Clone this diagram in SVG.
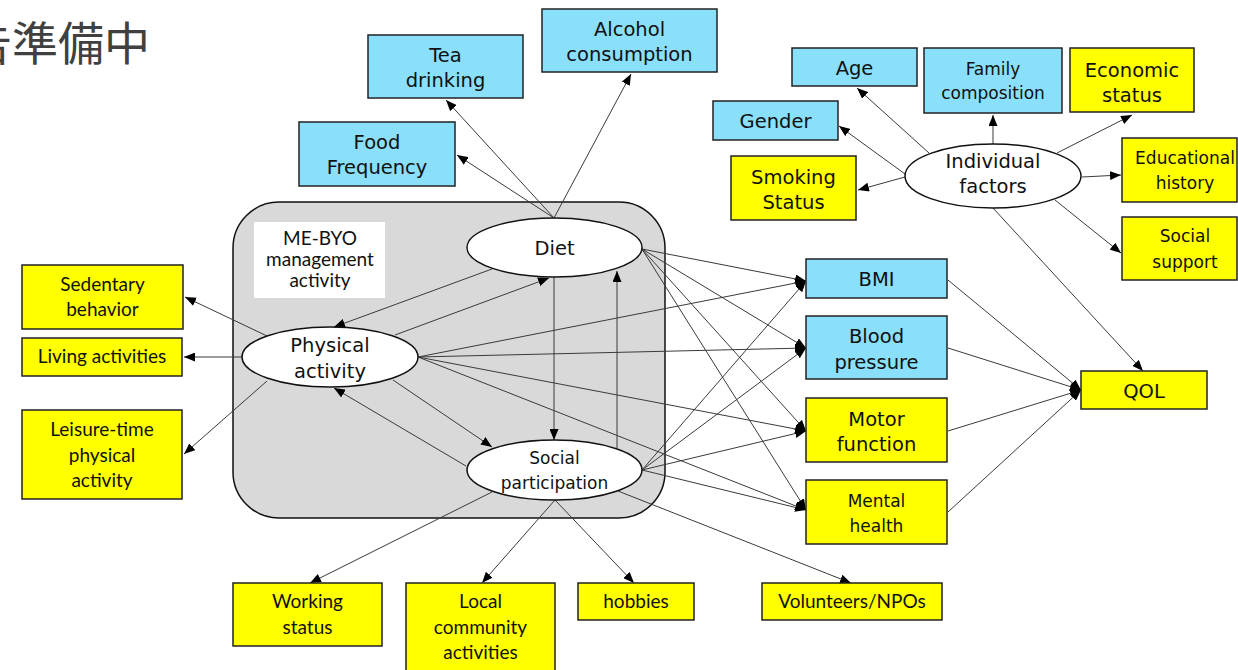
<svg xmlns="http://www.w3.org/2000/svg" width="1238" height="670" viewBox="0 0 1238 670">
  <style>
    .blue { fill: #8adffa; stroke: #222; stroke-width: 1.5; }
    .yellow { fill: #ffff00; stroke: #222; stroke-width: 1.5; }
    .ell { fill: #ffffff; stroke: #111; stroke-width: 1.5; }
    .t { font-family: "DejaVu Sans", Verdana, sans-serif; font-size: 19.5px; fill: #111; text-anchor: middle; }
    .s { font-family: "DejaVu Sans", Verdana, sans-serif; font-size: 17px; fill: #111; text-anchor: middle; }
    .c { font-family: Lato, "Liberation Sans", sans-serif; font-size: 19px; fill: #111; text-anchor: middle; }
    .edge { stroke: #3a3a3a; stroke-width: 1; fill: none; marker-end: url(#arrow); }
  </style>
  <defs>
    <marker id="arrow" markerUnits="userSpaceOnUse" markerWidth="11" markerHeight="9" refX="11" refY="4.5" orient="auto">
      <path d="M0,0 L11,4.5 L0,9 z" fill="#000"/>
    </marker>
  </defs>

  <rect width="1238" height="670" fill="#ffffff"/>

  <!-- page heading, clipped at the left margin -->
  <text x="-34" y="60" font-family="'Noto Sans CJK JP', sans-serif" font-size="46" fill="#404040">告準備中</text>

  <!-- ME-BYO management activity panel -->
  <g id="mebyo-panel">
    <rect x="233" y="202" width="432" height="316" rx="46" ry="46" fill="#d9d9d9" stroke="#111" stroke-width="1.5"/>
    <rect x="254" y="222" width="131" height="76" fill="#ffffff"/>
    <text class="c" x="320" y="245" font-size="16">ME-BYO</text>
    <text class="c" x="320" y="266" font-size="16">management</text>
    <text class="c" x="320" y="287" font-size="16">activity</text>
  </g>

  <!-- connectors -->
  <g id="connectors">
    <!-- Diet outputs -->
    <line class="edge" x1="554" y1="218" x2="446" y2="100"/>
    <line class="edge" x1="554" y1="218" x2="457" y2="155"/>
    <line class="edge" x1="554" y1="218" x2="631" y2="74"/>
    <line class="edge" x1="492" y1="269" x2="334" y2="327"/>
    <line class="edge" x1="395" y1="335" x2="549" y2="278"/>
    <line class="edge" x1="554" y1="277" x2="554" y2="440"/>
    <line class="edge" x1="617" y1="448" x2="617" y2="271"/>
    <line class="edge" x1="393" y1="380" x2="492" y2="447"/>
    <line class="edge" x1="466" y1="466" x2="334" y2="388"/>
    <!-- Physical activity outputs -->
    <line class="edge" x1="267" y1="336" x2="185" y2="297"/>
    <line class="edge" x1="242" y1="357" x2="184" y2="357"/>
    <line class="edge" x1="267" y1="381" x2="184" y2="454"/>
    <!-- to health outcomes -->
    <line class="edge" x1="642" y1="249" x2="806" y2="281"/>
    <line class="edge" x1="642" y1="249" x2="806" y2="348"/>
    <line class="edge" x1="642" y1="249" x2="806" y2="431"/>
    <line class="edge" x1="642" y1="249" x2="806" y2="510"/>
    <line class="edge" x1="418" y1="357" x2="806" y2="281"/>
    <line class="edge" x1="418" y1="357" x2="806" y2="348"/>
    <line class="edge" x1="418" y1="357" x2="806" y2="431"/>
    <line class="edge" x1="418" y1="357" x2="806" y2="510"/>
    <line class="edge" x1="642" y1="470" x2="806" y2="281"/>
    <line class="edge" x1="642" y1="470" x2="806" y2="348"/>
    <line class="edge" x1="642" y1="470" x2="806" y2="431"/>
    <line class="edge" x1="642" y1="470" x2="806" y2="510"/>
    <!-- Social participation outputs -->
    <line class="edge" x1="492" y1="492" x2="310" y2="583"/>
    <line class="edge" x1="555" y1="500" x2="482" y2="583"/>
    <line class="edge" x1="555" y1="500" x2="634" y2="583"/>
    <line class="edge" x1="618" y1="491" x2="851" y2="583"/>
    <!-- outcomes to QOL -->
    <line class="edge" x1="948" y1="280" x2="1081" y2="390"/>
    <line class="edge" x1="948" y1="348" x2="1081" y2="390"/>
    <line class="edge" x1="948" y1="431" x2="1081" y2="390"/>
    <line class="edge" x1="948" y1="512" x2="1081" y2="390"/>
    <!-- Individual factors outputs -->
    <line class="edge" x1="929" y1="153" x2="857" y2="88"/>
    <line class="edge" x1="905" y1="174" x2="839" y2="126"/>
    <line class="edge" x1="905" y1="177" x2="858" y2="190"/>
    <line class="edge" x1="993" y1="145" x2="993" y2="115"/>
    <line class="edge" x1="1057" y1="153" x2="1132" y2="115"/>
    <line class="edge" x1="1082" y1="177" x2="1121" y2="175"/>
    <line class="edge" x1="1055" y1="200" x2="1121" y2="253"/>
    <line class="edge" x1="993" y1="208" x2="1143" y2="371"/>
  </g>

  <!-- latent constructs -->
  <g id="diet">
    <ellipse class="ell" cx="554.5" cy="247.5" rx="87.5" ry="29.5"/>
    <text class="t" x="554.5" y="255" font-size="21">Diet</text>
  </g>
  <g id="physical-activity">
    <ellipse class="ell" cx="330" cy="357" rx="88" ry="30"/>
    <text class="t" x="330" y="352" font-size="20.5">Physical</text>
    <text class="t" x="330" y="378" font-size="20.5">activity</text>
  </g>
  <g id="social-participation">
    <ellipse class="ell" cx="554.5" cy="470" rx="87.5" ry="30"/>
    <text class="s" x="554.5" y="464">Social</text>
    <text class="s" x="554.5" y="489">participation</text>
  </g>
  <g id="individual-factors">
    <ellipse class="ell" cx="993" cy="176" rx="88" ry="32"/>
    <text class="t" x="993" y="168">Individual</text>
    <text class="t" x="993" y="193">factors</text>
  </g>

  <!-- diet indicators -->
  <g id="tea-drinking">
    <rect class="blue" x="368" y="35" width="155" height="63"/>
    <text class="t" x="445.5" y="62">Tea</text>
    <text class="t" x="445.5" y="87">drinking</text>
  </g>
  <g id="alcohol-consumption">
    <rect class="blue" x="542" y="9" width="175" height="63"/>
    <text class="t" x="629.5" y="36">Alcohol</text>
    <text class="t" x="629.5" y="61">consumption</text>
  </g>
  <g id="food-frequency">
    <rect class="blue" x="299" y="122" width="156" height="64"/>
    <text class="t" x="377" y="149">Food</text>
    <text class="t" x="377" y="174">Frequency</text>
  </g>

  <!-- individual factor indicators -->
  <g id="age">
    <rect class="blue" x="792" y="48" width="125" height="38"/>
    <text class="t" x="854.5" y="75">Age</text>
  </g>
  <g id="family-composition">
    <rect class="blue" x="924" y="48" width="138" height="65"/>
    <text class="s" x="993" y="75">Family</text>
    <text class="s" x="993" y="99">composition</text>
  </g>
  <g id="economic-status">
    <rect class="yellow" x="1070" y="48" width="124" height="64"/>
    <text class="t" x="1132" y="77">Economic</text>
    <text class="t" x="1132" y="102">status</text>
  </g>
  <g id="gender">
    <rect class="blue" x="713" y="101" width="125" height="39"/>
    <text class="t" x="775.5" y="128">Gender</text>
  </g>
  <g id="smoking-status">
    <rect class="yellow" x="731" y="156" width="125" height="64"/>
    <text class="t" x="793.5" y="184">Smoking</text>
    <text class="t" x="793.5" y="209">Status</text>
  </g>
  <g id="educational-history">
    <rect class="yellow" x="1122" y="138" width="115" height="64"/>
    <text class="s" x="1185" y="164">Educational</text>
    <text class="s" x="1185" y="189">history</text>
  </g>
  <g id="social-support">
    <rect class="yellow" x="1122" y="217" width="115" height="63"/>
    <text class="s" x="1185" y="242">Social</text>
    <text class="s" x="1185" y="268">support</text>
  </g>

  <!-- physical activity indicators -->
  <g id="sedentary-behavior">
    <rect class="yellow" x="22" y="265" width="161" height="64"/>
    <text class="c" x="102.5" y="291">Sedentary</text>
    <text class="c" x="102.5" y="316">behavior</text>
  </g>
  <g id="living-activities">
    <rect class="yellow" x="22" y="338" width="160" height="38"/>
    <text class="c" x="102" y="363">Living activities</text>
  </g>
  <g id="leisure-time-physical-activity">
    <rect class="yellow" x="22" y="410" width="160" height="89"/>
    <text class="c" x="102" y="436">Leisure-time</text>
    <text class="c" x="102" y="462">physical</text>
    <text class="c" x="102" y="487">activity</text>
  </g>

  <!-- health outcomes -->
  <g id="bmi">
    <rect class="blue" x="806" y="259" width="141" height="39"/>
    <text class="t" x="876.5" y="286">BMI</text>
  </g>
  <g id="blood-pressure">
    <rect class="blue" x="806" y="316" width="141" height="63"/>
    <text class="t" x="876.5" y="343">Blood</text>
    <text class="t" x="876.5" y="369">pressure</text>
  </g>
  <g id="motor-function">
    <rect class="yellow" x="806" y="398" width="141" height="64"/>
    <text class="t" x="876.5" y="426">Motor</text>
    <text class="t" x="876.5" y="451">function</text>
  </g>
  <g id="mental-health">
    <rect class="yellow" x="806" y="480" width="141" height="64"/>
    <text class="s" x="876.5" y="507">Mental</text>
    <text class="s" x="876.5" y="532">health</text>
  </g>
  <g id="qol">
    <rect class="yellow" x="1081" y="371" width="126" height="38"/>
    <text class="t" x="1144" y="398">QOL</text>
  </g>

  <!-- social participation indicators -->
  <g id="working-status">
    <rect class="yellow" x="233" y="583" width="149" height="63"/>
    <text class="c" x="307.5" y="608">Working</text>
    <text class="c" x="307.5" y="634">status</text>
  </g>
  <g id="local-community-activities">
    <rect class="yellow" x="406" y="583" width="149" height="90"/>
    <text class="c" x="480.5" y="608">Local</text>
    <text class="c" x="480.5" y="634">community</text>
    <text class="c" x="480.5" y="659">activities</text>
  </g>
  <g id="hobbies">
    <rect class="yellow" x="578" y="583" width="116" height="37"/>
    <text class="c" x="636" y="608">hobbies</text>
  </g>
  <g id="volunteers-npos">
    <rect class="yellow" x="762" y="583" width="180" height="37"/>
    <text class="c" x="852" y="608">Volunteers/NPOs</text>
  </g>
</svg>
